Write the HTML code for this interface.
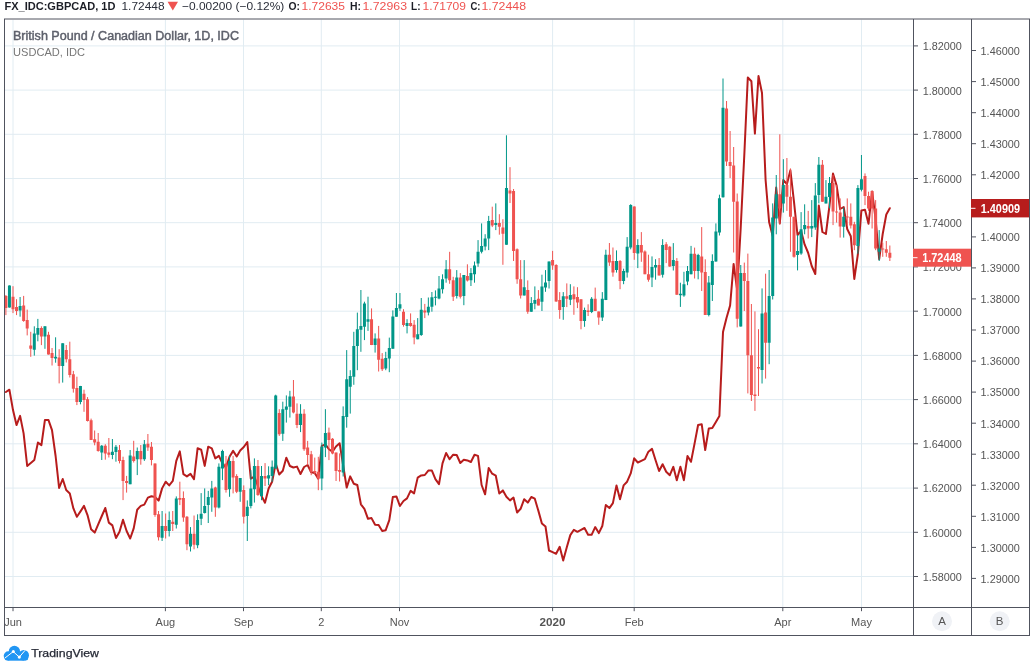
<!DOCTYPE html>
<html><head><meta charset="utf-8"><title>GBPCAD chart</title>
<style>
html,body{margin:0;padding:0;background:#fff;overflow:hidden}
svg{display:block;will-change:transform;font-family:"Liberation Sans",sans-serif}
</style></head><body>
<svg width="1030" height="668" viewBox="0 0 1030 668">
<rect width="1030" height="668" fill="#fff"/>
<defs><clipPath id="cp"><rect x="5" y="19.5" width="908.5" height="587.5"/></clipPath><clipPath id="ct"><rect x="5" y="608" width="908" height="27"/></clipPath></defs>
<g clip-path="url(#cp)"><path d="M13 19.5V607M165.4 19.5V607M243.5 19.5V607M321.3 19.5V607M399.5 19.5V607M552.6 19.5V607M634.2 19.5V607M782.8 19.5V607M861.5 19.5V607M5 45.9H913M5 90.1H913M5 134.3H913M5 178.5H913M5 222.7H913M5 266.9H913M5 311.2H913M5 355.4H913M5 399.6H913M5 443.8H913M5 488.1H913M5 532.3H913M5 576.5H913" stroke="#e1ecf2" stroke-width="1" fill="none"/>
<polyline points="5.9,392 9.4,389.7 13,410.1 16.5,425.1 20.1,415.9 23.6,433.4 27.2,466 30.8,463 34.3,460.1 37.9,442.6 41.4,445.1 44.9,420.1 48.5,420.1 52,430.1 55.6,456 59.1,488 62.7,479 66.2,490 69.8,493.4 73.4,508.4 76.9,516.8 80.5,511.4 84,505.9 87.5,515.1 91.1,529.3 94.7,532.6 98.2,524.3 101.8,516 105.3,508 108.8,522.6 112.4,525.4 116,538.1 119.5,531.8 123,519.8 126.6,531 130.2,538.5 133.7,528.4 137.2,509.7 140.8,505.9 144.3,504.6 147.9,497.6 151.4,496.2 155,497 158.6,500.6 162.1,488.4 165.7,481.7 169.2,485.4 172.8,480.9 176.3,460.9 179.8,451.4 183.4,474.2 186.9,476.4 190.5,473.9 194,479.2 197.6,448.3 201.2,449.7 204.7,465.9 208.2,446.7 211.8,448.3 215.3,458.4 218.9,455.9 222.4,463.4 226,467.5 229.5,456.7 233.1,450.9 236.7,456.5 240.2,450.5 243.8,447 247.3,442 250.8,478.7 254.4,476.6 257.9,486 261.5,496 265,502.7 268.6,488.5 272.1,481.7 275.7,463.5 279.2,474.5 282.8,470.7 286.3,457.7 289.9,466 293.4,467.5 297,466.6 300.5,474 304.1,467 307.6,465 311.2,472.2 314.7,473 318.3,478.6 321.8,445.9 325.4,444.3 328.9,449.3 332.5,451.8 336,446.5 339.6,443.2 343.1,465 346.7,487.6 350.2,476.4 353.8,483.7 357.3,485 360.9,504.3 364.4,508.8 368,518.8 371.5,518.1 375.1,524.8 378.6,525.1 382.2,531 385.7,530.2 389.3,520.1 392.8,497.1 396.4,496.4 399.9,506 403.5,501 407,498.4 410.6,490.9 414.1,493.4 417.7,477.6 421.2,475.4 424.8,475 428.3,470.6 431.9,470.6 435.4,479.2 439,484.2 442.5,463.4 446.1,453 449.6,459.2 453.2,454.7 456.7,455 460.3,463 463.8,459.7 467.4,460.4 470.9,462 474.5,454.7 478,455.9 481.6,485 485.1,494.3 488.7,468 492.2,473.7 495.8,475.7 499.3,493.6 502.9,490.4 506.4,496.8 510,500.4 513.5,497.6 517.1,512.6 520.6,508.8 524.2,499.2 527.8,502.6 531.3,497 534.8,498.7 538.4,510.9 541.9,523.4 545.5,526.5 549,550.5 552.6,552.2 556.1,553.8 559.7,546.8 563.2,560.5 566.8,547.2 570.3,535.1 573.9,529.8 577.4,531.8 581,529.8 584.5,528 588.1,534.8 591.6,534.8 595.2,527.1 598.8,533.1 602.3,526 605.8,505.1 609.4,508.1 612.9,503.1 616.5,485.4 620,499.2 623.6,485.4 627.1,481.7 630.7,473.4 634.2,458.3 637.8,462.5 641.3,460.8 644.9,459.2 648.4,451.7 652,448.9 655.5,460 659.1,471 662.6,464.2 666.2,471.7 669.8,475.2 673.3,466.8 676.8,480.2 680.4,466.8 683.9,480.2 687.5,456 691,461.8 694.6,443.4 698.1,425 701.7,424.2 705.2,450 708.8,428.4 712.3,428 715.9,422 719.4,416 723,332 726.5,318 730.1,305.5 733.6,264 737.2,290 740.7,228 744.3,155 747.8,77.5 751.4,81.3 754.9,133.6 758.5,76 762,93 765.6,180 769.1,222 772.7,236 776.2,187.6 779.8,223.5 783.3,180 786.9,184.2 790.4,170.3 794,201.8 797.5,235 801.1,231 804.6,244.4 808.2,253 811.7,266 815.3,274 818.8,205.5 822.4,232 825.9,234 829.5,205.5 833,173.5 836.6,185.5 840.1,209 843.7,207 847.2,229 850.8,236.3 854.3,279 857.9,254 861.4,210.4 865,209.8 868.5,223.8 872.1,191.5 875.6,219 879.2,259.2 882.7,234 886.3,214.5 889.8,208.2" fill="none" stroke="#b71c1c" stroke-width="2" stroke-linejoin="round" stroke-linecap="round"/>
<path d="M9.45 285.4V307.6M20.1 297V316.7M34.3 326.3V355.6M37.85 318.9V341.3M44.95 326.3V348.8M55.6 337.3V362.7M62.7 343.3V382.6M80.45 385.9V404.3M101.75 445V460M112.4 439V459.2M115.95 445V461.7M130.15 450V484.2M137.25 447.5V475.1M144.35 440V460.9M162.1 511V541M169.2 511.5V536.5M176.3 496.4V528.5M190.5 527.1V551.5M197.6 514.3V548.2M201.15 493.1V525.1M204.7 488.4V513.5M208.25 490.9V523M211.8 480.9V511.8M218.9 463.4V508.4M222.45 449.7V480.1M229.55 455.9V496.8M240.2 478.1V501.8M247.3 500.4V541M250.85 470.1V508.4M254.4 458.4V502.6M261.5 466V500.2M268.6 466.3V485.2M272.15 460.5V481.8M275.7 394.7V468.5M282.8 401.7V440.9M286.35 395.4V422.6M289.9 390.8V417.6M300.55 404.2V432.1M321.85 442.6V490.2M325.4 409.2V457.1M343.15 406.4V476.5M346.7 350.1V427.7M350.25 370.2V413.6M353.8 331.8V384.8M357.35 312.6V370.2M360.9 290V351.8M364.45 301.7V340.1M368 296.7V330.9M375.1 333.4V352.6M385.75 351.8V370.2M389.3 337.6V372.2M392.85 310.4V348.8M396.4 293V316.7M399.95 293V310.9M407.05 319.2V333.4M417.7 318.1V339.3M421.25 298V335.9M428.35 297.5V315.4M431.9 292V311.7M435.45 290.4V305.4M439 276V299.3M442.55 274.3V293.5M446.1 260.1V282.7M456.75 270.1V298.5M463.85 275.1V305.2M470.95 268.1V286M474.5 261.5V282.7M478.05 240.1V266.8M481.6 223.4V253.4M485.15 234.2V250.4M488.7 215.9V250.1M495.8 203.4V230.1M506.45 135.3V244.8M524.2 260.1V295.5M531.3 297.1V311.8M534.85 286.4V309.3M541.95 274.7V311M545.5 270.1V291.8M549.05 261.5V288.5M563.25 292.1V319.8M570.35 284.2V305.1M584.55 307.6V326.8M591.65 297.1V313.1M602.3 292.1V321M605.85 249.7V300.1M616.5 250.4V272.6M623.6 268.7V284.2M627.15 237.1V277.6M630.7 204.2V249.3M637.8 239.2V268.1M652 256.4V287.1M655.55 259.2V279.7M662.65 239.2V277.6M673.3 243.1V270.5M680.4 282.7V306.9M683.95 271.8V296.8M687.5 266V285.2M691.05 245.9V274.3M698.15 253.8V279.3M708.8 276V316.4M712.35 254.3V301M715.9 223.4V261.7M719.45 194.7V235.5M723 78.5V197.6M740.75 265V326.6M762.05 288.4V383.5M769.15 270V364.2M772.7 203.4V299.5M776.25 175V234.3M783.35 159.2V212.6M797.55 235V270.4M801.1 212.1V254.8M804.65 204.3V234.3M811.75 200.1V237.1M815.3 183.1V229.8M818.85 157V203.4M825.95 180.1V203.4M829.5 177V208.4M843.7 207.6V237.6M857.9 185.1V253.8M861.45 155V191.4M879.2 230.1V261" stroke="#009688" stroke-width="1" fill="none"/>
<path d="M5.9 295V315.1M13 286.2V313.1M16.55 299.2V315.1M23.65 295.9V321.8M27.2 309.6V335.4M30.75 331.8V356.8M41.4 326.3V345.1M48.5 331.8V354.6M52.05 348V365.5M59.15 349.2V383.4M66.25 345V362.5M69.8 341.7V377.5M73.35 370.9V392.6M76.9 376.7V405.1M84 389.7V411.8M87.55 397.1V421.5M91.1 418.6V440M94.65 430.5V445.3M98.2 433V451.7M105.3 444.2V459.7M108.85 438V457.5M119.5 445V463.4M123.05 456.7V500.1M126.6 475.9V492.6M133.7 440.8V462.5M140.8 445V464.7M147.9 434V450.9M151.45 442V465.4M155 463.4V516.8M158.55 511V540.5M165.65 513.5V538.5M172.75 511V531M179.85 481.7V505.1M183.4 491.4V521.8M186.95 516V550.2M194.05 515.5V549.3M215.35 486.7V516.8M226 455.9V492.6M233.1 455.9V493.4M236.65 474.2V493.1M243.75 485.4V523.5M257.95 460V495.9M265.05 463.1V486M279.25 409.2V435.9M293.45 380V413.4M297 403.4V428.1M304.1 409.2V450.9M307.65 440.9V465.1M311.2 450.9V475.2M314.75 457.6V474.3M318.3 456.8V490.2M328.95 427.6V460.1M332.5 438.1V454.3M336.05 452.6V481M339.6 453.4V481.5M371.55 308.4V345.1M378.65 325.9V371.5M382.2 353.1V371M403.5 309.2V326.7M410.6 313.4V326.7M414.15 320.1V344.3M424.8 303.9V318.1M449.65 251.8V283.8M453.2 276.8V301M460.3 273.1V298.5M467.4 264.3V281.5M492.25 206.7V227.1M499.35 214.2V234.7M502.9 219.2V264.8M510 167.2V203M513.55 189V261M517.1 248.4V283.8M520.65 260.1V298.5M527.75 280.4V313.8M538.4 290.1V305.4M552.6 250.9V269.8M556.15 264.2V301.8M559.7 292.1V318.8M566.8 283.4V307.1M573.9 286.4V314.8M577.45 287.2V308.1M581 299.3V329.3M588.1 304.3V316M595.2 287.6V311M598.75 311.5V324.8M609.4 243V265.9M612.95 247.5V276.7M620.05 260V289.2M634.25 206.4V259.8M641.35 232.1V261.8M644.9 250.4V274.2M648.45 254.7V281.7M659.1 258V275.4M666.2 242.1V263.1M669.75 245.9V266.8M676.85 258.1V294.8M694.6 247.6V278.5M701.7 227.1V291M705.25 259.3V315M726.55 101V166M730.1 131V178M733.65 147V252.5M737.2 193.5V327.4M744.3 262.6V311M747.85 253.6V393.4M751.4 304V401M754.95 311.4V410.9M758.5 329.2V396M765.6 273.7V378.6M779.8 134.3V224.3M786.9 158V210.9M790.45 168.4V251.8M794 216.8V257.7M808.2 210.9V238.5M822.4 160V201.8M833.05 175V225.1M836.6 185.1V222.6M840.15 198.4V237.6M847.25 198.4V225.1M850.8 203.4V228.5M854.35 221.8V250.2M865 173.4V205.1M868.55 191.7V210.9M872.1 190.9V228.5M875.65 200.1V250.2M882.75 242.7V256.8M886.3 241V256.8M889.85 245.5V261" stroke="#ef5350" stroke-width="1" fill="none"/>
<path d="M7.95 285.4h3V307.6h-3zM18.6 305.9h3V310.6h-3zM32.8 333.4h3V349.8h-3zM36.35 327.9h3V334.8h-3zM43.45 326.3h3V336.4h-3zM54.1 356.8h3V358.5h-3zM61.2 343.3h3V365.9h-3zM78.95 385.9h3V402.1h-3zM100.25 445.8h3V452.5h-3zM110.9 451.7h3V455h-3zM114.45 446.7h3V452h-3zM128.65 455.4h3V484.2h-3zM135.75 450.9h3V459.2h-3zM142.85 444.2h3V459.2h-3zM160.6 526h3V537.7h-3zM167.7 520.1h3V531h-3zM174.8 498.4h3V524.8h-3zM189 533.8h3V546.5h-3zM196.1 520.1h3V545.2h-3zM199.65 513.8h3V518.8h-3zM203.2 505.9h3V513.1h-3zM206.75 497.1h3V505.1h-3zM210.3 488.4h3V497.6h-3zM217.4 466.7h3V507.6h-3zM220.95 450.9h3V468.4h-3zM228.05 460.9h3V489.2h-3zM238.7 478.1h3V491.8h-3zM245.8 506.8h3V516h-3zM249.35 488.4h3V505.9h-3zM252.9 465.9h3V489.2h-3zM260 476h3V496h-3zM267.1 475.2h3V478.5h-3zM270.65 466.8h3V476h-3zM274.2 395.4h3V468.5h-3zM281.3 409.2h3V433.7h-3zM284.85 406.4h3V409.7h-3zM288.4 396.4h3V406.7h-3zM299.05 413.7h3V425.1h-3zM320.35 446.8h3V478.5h-3zM323.9 433.1h3V447.6h-3zM341.65 415.9h3V472.6h-3zM345.2 379.3h3V416.9h-3zM348.75 376h3V386.8h-3zM352.3 345.9h3V376.8h-3zM355.85 329.2h3V345.9h-3zM359.4 325.9h3V329.7h-3zM362.95 303.4h3V326.7h-3zM366.5 319.2h3V321.7h-3zM373.6 338.4h3V345.1h-3zM384.25 358.1h3V368.5h-3zM387.8 348.1h3V358.5h-3zM391.35 316.4h3V348.8h-3zM394.9 308h3V316.7h-3zM398.45 304.2h3V308.4h-3zM405.55 323.1h3V325.9h-3zM416.2 334.3h3V339.3h-3zM419.75 309.7h3V335.1h-3zM426.85 306.7h3V312.6h-3zM430.4 297.2h3V306.7h-3zM433.95 296.7h3V297.7h-3zM437.5 288.5h3V298.5h-3zM441.05 279.3h3V289.3h-3zM444.6 269.3h3V278.5h-3zM455.25 277.6h3V296h-3zM462.35 275.1h3V296h-3zM469.45 273.1h3V280.2h-3zM473 265.5h3V274.3h-3zM476.55 251.8h3V263.5h-3zM480.1 245.9h3V251.8h-3zM483.65 238.4h3V246.4h-3zM487.2 220.9h3V238.4h-3zM494.3 223.1h3V225.1h-3zM504.95 188h3V244.8h-3zM522.7 287.2h3V295.5h-3zM529.8 303.1h3V311.8h-3zM533.35 300.1h3V303.8h-3zM540.45 286.4h3V301.8h-3zM544 282.6h3V287.6h-3zM547.55 261.5h3V281h-3zM561.75 296.3h3V307.1h-3zM568.85 295.1h3V299.8h-3zM583.05 310.1h3V321h-3zM590.15 298.8h3V312.1h-3zM600.8 298.8h3V317.6h-3zM604.35 254.7h3V300.1h-3zM615 260.9h3V270.1h-3zM622.1 270.9h3V280.9h-3zM625.65 246.8h3V272.6h-3zM629.2 205h3V247.6h-3zM636.3 245.1h3V253.4h-3zM650.5 267h3V277.6h-3zM654.05 265h3V267.5h-3zM661.15 245.1h3V274.8h-3zM671.8 260.1h3V266h-3zM678.9 293.8h3V295.2h-3zM682.45 284.3h3V295.5h-3zM686 271h3V281.5h-3zM689.55 253.8h3V274.3h-3zM696.65 255.1h3V271h-3zM707.3 282.6h3V315h-3zM710.85 261h3V285h-3zM714.4 231.4h3V261.5h-3zM717.95 198.3h3V232.6h-3zM721.5 107.7h3V197.3h-3zM739.25 273h3V326.6h-3zM760.55 313.4h3V370h-3zM767.65 296h3V342.8h-3zM771.2 217.6h3V296h-3zM774.75 194.2h3V218.4h-3zM781.85 185.1h3V203.4h-3zM796.05 251h3V255h-3zM799.6 229.3h3V253.5h-3zM803.15 225.1h3V229.3h-3zM810.25 226h3V228.5h-3zM813.8 195.4h3V227.6h-3zM817.35 164.7h3V195.1h-3zM824.45 196.7h3V203.4h-3zM828 183.1h3V197.1h-3zM842.2 216.8h3V226.8h-3zM856.4 188.1h3V246h-3zM859.95 179.2h3V189.7h-3zM877.7 248.5h3V251.8h-3z" fill="#009688"/>
<path d="M4.4 295.9h3V308.1h-3zM11.5 296.7h3V309.2h-3zM15.05 307.1h3V310.9h-3zM22.15 305.6h3V320.9h-3zM25.7 320.1h3V328.4h-3zM29.25 345.5h3V348.8h-3zM39.9 327.9h3V336.4h-3zM47 334.8h3V354.6h-3zM50.55 353h3V358h-3zM57.65 357.5h3V365.9h-3zM64.75 350h3V359.2h-3zM68.3 359.2h3V375h-3zM71.85 374.2h3V388.7h-3zM75.4 388.1h3V402.1h-3zM82.5 393.7h3V400.1h-3zM86.05 399.2h3V421h-3zM89.6 420.3h3V440h-3zM93.15 439.2h3V442.5h-3zM96.7 441.7h3V450.9h-3zM103.8 445.8h3V453.4h-3zM107.35 452.5h3V454.7h-3zM118 450h3V460.9h-3zM121.55 460h3V480.9h-3zM125.1 480.9h3V483.1h-3zM132.2 456.4h3V460.9h-3zM139.3 450.9h3V459.2h-3zM146.4 443.7h3V447.5h-3zM149.95 446.7h3V460h-3zM153.5 463.4h3V515.1h-3zM157.05 514.3h3V537.2h-3zM164.15 526h3V531h-3zM171.25 521.8h3V524h-3zM178.35 497.9h3V499.8h-3zM181.9 497.9h3V517.6h-3zM185.45 516.8h3V544.3h-3zM192.55 533.8h3V544.8h-3zM213.85 487.6h3V507.6h-3zM224.5 463.4h3V490.1h-3zM231.6 460.9h3V477.6h-3zM235.15 475.9h3V491.8h-3zM242.25 490.1h3V516.8h-3zM256.45 465.9h3V495.1h-3zM263.55 476h3V478.5h-3zM277.75 413h3V434.2h-3zM291.95 396.4h3V412.5h-3zM295.5 413.7h3V425.1h-3zM302.6 413.7h3V449.3h-3zM306.15 447.6h3V455.1h-3zM309.7 454.3h3V471.8h-3zM313.25 471h3V472.6h-3zM316.8 471.8h3V478.5h-3zM327.45 432.6h3V440.1h-3zM331 438.8h3V453.4h-3zM334.55 452.6h3V471h-3zM338.1 470.1h3V471.8h-3zM370.05 319.2h3V345.1h-3zM377.15 338.4h3V359.8h-3zM380.7 358.8h3V369.3h-3zM402 311.7h3V325.1h-3zM409.1 323.1h3V325.9h-3zM412.65 324.7h3V337.6h-3zM423.3 310.4h3V312.6h-3zM448.15 269.3h3V280.2h-3zM451.7 280.2h3V296.8h-3zM458.8 277.6h3V296.8h-3zM465.9 276h3V280.5h-3zM490.75 220.1h3V225.4h-3zM497.85 223.1h3V226.7h-3zM501.4 227.6h3V233.7h-3zM508.5 190.6h3V193.4h-3zM512.05 191h3V251h-3zM515.6 249.3h3V279.3h-3zM519.15 279.3h3V295.5h-3zM526.25 290.1h3V311.8h-3zM536.9 298.8h3V305.4h-3zM551.1 260.1h3V265.5h-3zM554.65 265h3V301.4h-3zM558.2 300.1h3V310.1h-3zM565.3 296.3h3V298.8h-3zM572.4 294.3h3V299.3h-3zM575.95 297.1h3V302.6h-3zM579.5 299.3h3V321h-3zM586.6 310.6h3V312.1h-3zM593.7 298.8h3V311h-3zM597.25 311.5h3V317.6h-3zM607.9 254.7h3V262.5h-3zM611.45 260.9h3V272.6h-3zM618.55 260.9h3V280.9h-3zM632.75 206.4h3V253.1h-3zM639.85 245.1h3V252.6h-3zM643.4 251.4h3V274.2h-3zM646.95 274.2h3V279.7h-3zM657.6 265h3V275.4h-3zM664.7 244.3h3V250.1h-3zM668.25 246.8h3V266.5h-3zM675.35 261h3V294.8h-3zM693.1 253.8h3V271h-3zM700.2 256.4h3V272.6h-3zM703.75 272h3V315h-3zM725.05 108.6h3V161.5h-3zM728.6 162h3V166h-3zM732.15 165.6h3V201.8h-3zM735.7 201.6h3V318.8h-3zM742.8 273h3V281h-3zM746.35 281h3V355.3h-3zM749.9 355.3h3V395h-3zM753.45 394.5h3V396h-3zM757 367h3V368.5h-3zM764.1 312.5h3V342.8h-3zM778.3 194.2h3V208.4h-3zM785.4 185.1h3V196.7h-3zM788.95 196.7h3V216.8h-3zM792.5 216.8h3V256.8h-3zM806.7 226h3V228.5h-3zM820.9 164.7h3V201.8h-3zM831.55 183.1h3V211.4h-3zM835.1 211.4h3V212.6h-3zM838.65 212.6h3V226.5h-3zM845.75 216.4h3V217.6h-3zM849.3 216.8h3V225.5h-3zM852.85 224.3h3V245.2h-3zM863.5 175.9h3V195.9h-3zM867.05 195.9h3V208.4h-3zM870.6 190.9h3V208.4h-3zM874.15 208.4h3V248.5h-3zM881.25 248.5h3V249.5h-3zM884.8 249.3h3V252.7h-3zM888.35 252.7h3V257.7h-3z" fill="#ef5350"/></g>
<path d="M4.5 19V635.5M913.5 19V635.5M971.5 19V635.5M1029.5 19V635.5" stroke="#50535e" stroke-width="1" fill="none"/>
<path d="M4 19H1030M4 607.5H1030M4 635.5H1030" stroke="#50535e" stroke-width="1" fill="none"/>
<path d="M914 45.9h4M914 90.1h4M914 134.3h4M914 178.5h4M914 222.7h4M914 266.9h4M914 311.2h4M914 355.4h4M914 399.6h4M914 443.8h4M914 488.1h4M914 532.3h4M914 576.5h4M972 50.5h4M972 81.6h4M972 112.7h4M972 143.7h4M972 174.8h4M972 205.8h4M972 236.9h4M972 267.9h4M972 298.9h4M972 330h4M972 361.1h4M972 392.1h4M972 423.2h4M972 454.2h4M972 485.2h4M972 516.3h4M972 547.4h4M972 578.4h4M13 608v3.2M165.4 608v3.2M243.5 608v3.2M321.3 608v3.2M399.5 608v3.2M552.6 608v3.2M634.2 608v3.2M782.8 608v3.2M861.5 608v3.2" stroke="#50535e" stroke-width="1" fill="none"/>
<g font-size="11.5" fill="#555"><text x="922.7" y="50.2" textLength="39.2" lengthAdjust="spacingAndGlyphs">1.82000</text><text x="922.7" y="94.5" textLength="39.2" lengthAdjust="spacingAndGlyphs">1.80000</text><text x="922.7" y="138.7" textLength="39.2" lengthAdjust="spacingAndGlyphs">1.78000</text><text x="922.7" y="182.9" textLength="39.2" lengthAdjust="spacingAndGlyphs">1.76000</text><text x="922.7" y="227.1" textLength="39.2" lengthAdjust="spacingAndGlyphs">1.74000</text><text x="922.7" y="271.3" textLength="39.2" lengthAdjust="spacingAndGlyphs">1.72000</text><text x="922.7" y="315.6" textLength="39.2" lengthAdjust="spacingAndGlyphs">1.70000</text><text x="922.7" y="359.8" textLength="39.2" lengthAdjust="spacingAndGlyphs">1.68000</text><text x="922.7" y="404" textLength="39.2" lengthAdjust="spacingAndGlyphs">1.66000</text><text x="922.7" y="448.2" textLength="39.2" lengthAdjust="spacingAndGlyphs">1.64000</text><text x="922.7" y="492.4" textLength="39.2" lengthAdjust="spacingAndGlyphs">1.62000</text><text x="922.7" y="536.7" textLength="39.2" lengthAdjust="spacingAndGlyphs">1.60000</text><text x="922.7" y="580.9" textLength="39.2" lengthAdjust="spacingAndGlyphs">1.58000</text><text x="980.6" y="54.8" textLength="39.2" lengthAdjust="spacingAndGlyphs">1.46000</text><text x="980.6" y="85.9" textLength="39.2" lengthAdjust="spacingAndGlyphs">1.45000</text><text x="980.6" y="117" textLength="39.2" lengthAdjust="spacingAndGlyphs">1.44000</text><text x="980.6" y="148" textLength="39.2" lengthAdjust="spacingAndGlyphs">1.43000</text><text x="980.6" y="179.1" textLength="39.2" lengthAdjust="spacingAndGlyphs">1.42000</text><text x="980.6" y="210.1" textLength="39.2" lengthAdjust="spacingAndGlyphs">1.41000</text><text x="980.6" y="241.2" textLength="39.2" lengthAdjust="spacingAndGlyphs">1.40000</text><text x="980.6" y="272.2" textLength="39.2" lengthAdjust="spacingAndGlyphs">1.39000</text><text x="980.6" y="303.2" textLength="39.2" lengthAdjust="spacingAndGlyphs">1.38000</text><text x="980.6" y="334.3" textLength="39.2" lengthAdjust="spacingAndGlyphs">1.37000</text><text x="980.6" y="365.4" textLength="39.2" lengthAdjust="spacingAndGlyphs">1.36000</text><text x="980.6" y="396.4" textLength="39.2" lengthAdjust="spacingAndGlyphs">1.35000</text><text x="980.6" y="427.5" textLength="39.2" lengthAdjust="spacingAndGlyphs">1.34000</text><text x="980.6" y="458.5" textLength="39.2" lengthAdjust="spacingAndGlyphs">1.33000</text><text x="980.6" y="489.6" textLength="39.2" lengthAdjust="spacingAndGlyphs">1.32000</text><text x="980.6" y="520.6" textLength="39.2" lengthAdjust="spacingAndGlyphs">1.31000</text><text x="980.6" y="551.6" textLength="39.2" lengthAdjust="spacingAndGlyphs">1.30000</text><text x="980.6" y="582.7" textLength="39.2" lengthAdjust="spacingAndGlyphs">1.29000</text></g>
<g font-size="11" fill="#555" clip-path="url(#ct)"><text x="13" y="625.8" text-anchor="middle">Jun</text><text x="165.4" y="625.8" text-anchor="middle">Aug</text><text x="243.5" y="625.8" text-anchor="middle">Sep</text><text x="321.3" y="625.8" text-anchor="middle">2</text><text x="399.5" y="625.8" text-anchor="middle">Nov</text><text x="552.6" y="625.8" text-anchor="middle" font-weight="bold" font-size="11.7">2020</text><text x="634.2" y="625.8" text-anchor="middle">Feb</text><text x="782.8" y="625.8" text-anchor="middle">Apr</text><text x="861.5" y="625.8" text-anchor="middle">May</text></g>
<rect x="971" y="199" width="58" height="18.4" fill="#b71c1c"/><path d="M971 208.3h4.5" stroke="#fff"/>
<text x="980.7" y="212.6" font-size="12" font-weight="bold" fill="#fff" textLength="39.5" lengthAdjust="spacingAndGlyphs">1.40909</text>
<rect x="913" y="248.7" width="58" height="18" fill="#ef5350"/><path d="M913 257.7h4.5" stroke="#fff"/>
<text x="922.2" y="262.4" font-size="12" font-weight="bold" fill="#fff" textLength="39.5" lengthAdjust="spacingAndGlyphs">1.72448</text>
<circle cx="942" cy="621.2" r="10" fill="#f0f2f6"/><circle cx="999.7" cy="621.2" r="10" fill="#f0f2f6"/>
<g font-size="11.5" fill="#555" text-anchor="middle"><text x="942" y="625.3">A</text><text x="999.7" y="625.3">B</text></g>
<text x="13" y="40" font-size="12.5" fill="#5d606b" stroke="#5d606b" stroke-width="0.45" textLength="226" lengthAdjust="spacingAndGlyphs">British Pound / Canadian Dollar, 1D, IDC</text>
<text x="13" y="55.5" font-size="11.5" fill="#777" textLength="72" lengthAdjust="spacingAndGlyphs">USDCAD, IDC</text>
<g font-size="11.5"><text x="4.4" y="9.6" fill="#1c1e26" font-weight="bold" textLength="111.1" lengthAdjust="spacingAndGlyphs">FX_IDC:GBPCAD, 1D</text><text x="121.5" y="9.6" fill="#2a2e39" textLength="43" lengthAdjust="spacingAndGlyphs">1.72448</text><text x="182" y="9.6" fill="#2a2e39" textLength="102.3" lengthAdjust="spacingAndGlyphs">−0.00200 (−0.12%)</text><text x="288.5" y="9.6" fill="#1c1e26" font-weight="bold" textLength="11.5" lengthAdjust="spacingAndGlyphs">O:</text><text x="301.5" y="9.6" fill="#ef5350" textLength="43.5" lengthAdjust="spacingAndGlyphs">1.72635</text><text x="350" y="9.6" fill="#1c1e26" font-weight="bold" textLength="11" lengthAdjust="spacingAndGlyphs">H:</text><text x="362.5" y="9.6" fill="#ef5350" textLength="44.5" lengthAdjust="spacingAndGlyphs">1.72963</text><text x="411" y="9.6" fill="#1c1e26" font-weight="bold" textLength="9.5" lengthAdjust="spacingAndGlyphs">L:</text><text x="422.5" y="9.6" fill="#ef5350" textLength="43.5" lengthAdjust="spacingAndGlyphs">1.71709</text><text x="470.5" y="9.6" fill="#1c1e26" font-weight="bold" textLength="10" lengthAdjust="spacingAndGlyphs">C:</text><text x="481.5" y="9.6" fill="#ef5350" textLength="44.5" lengthAdjust="spacingAndGlyphs">1.72448</text></g>
<path d="M167.6 1.8h10.4l-5.2 8.7z" fill="#ef5350"/>
<g fill="#2196f3"><circle cx="8.25" cy="655.85" r="4.55"/><circle cx="14.4" cy="651.5" r="5.7"/><circle cx="23.8" cy="655.2" r="5.2"/><rect x="8" y="653" width="16" height="7.4"/><rect x="4.6" y="655.4" width="23.6" height="5" rx="2.6"/></g><path d="M5 658l8.2-6.4l6.1 5.5l5.8-6.8" stroke="#fff" stroke-width="1" fill="none"/><circle cx="13.3" cy="651.6" r="1.5" fill="#fff"/><circle cx="19.3" cy="657.1" r="1.6" fill="#fff"/>
<text x="31.2" y="657.2" font-size="11.5" fill="#262a36" stroke="#262a36" stroke-width="0.25" textLength="67.8" lengthAdjust="spacingAndGlyphs">TradingView</text>
</svg>
</body></html>
